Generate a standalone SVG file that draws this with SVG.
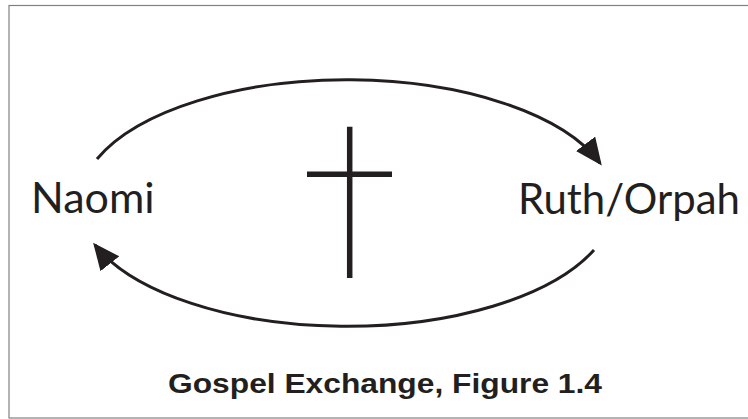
<svg xmlns="http://www.w3.org/2000/svg" width="748" height="419" viewBox="0 0 748 419">
  <style>
    .label { font-family: Lato, "Open Sans", "Liberation Sans", sans-serif; font-size: 43px; fill: #231f20; }
    .caption { font-family: "Liberation Sans", Arial, sans-serif; font-size: 28px; font-weight: bold; fill: #231f20; }
    .arc { fill: none; stroke: #231f20; stroke-width: 3; }
    .cross { stroke: #231f20; stroke-width: 5.5; }
  </style>
  <defs>
    <marker id="arrow" markerUnits="userSpaceOnUse" markerWidth="32" markerHeight="28" refX="24" refY="12" orient="auto" viewBox="0 0 32 28">
      <path d="M0,0 L27,12 L0,24 Z" fill="#231f20"/>
    </marker>
  </defs>
  <rect x="9" y="5.5" width="760" height="412.5" fill="#ffffff" stroke="#808080" stroke-width="1.2"/>
  <g id="connectors">
    <path class="arc" d="M97,159 A268,124 0 0 1 600,163" marker-end="url(#arrow)"/>
    <path class="arc" d="M594,250 A268,124 0 0 1 95,245" marker-end="url(#arrow)"/>
  </g>
  <g id="cross">
    <line class="cross" x1="349.7" y1="126.7" x2="349.7" y2="278"/>
    <line class="cross" x1="307" y1="174.3" x2="392" y2="174.3"/>
  </g>
  <g id="naomi">
    <text class="label" x="31" y="213">Naomi</text>
  </g>
  <g id="ruth-orpah">
    <text class="label" x="518" y="214" textLength="222" lengthAdjust="spacingAndGlyphs">Ruth/Orpah</text>
  </g>
  <g id="caption">
    <text class="caption" x="168" y="393" textLength="434" lengthAdjust="spacingAndGlyphs">Gospel Exchange, Figure 1.4</text>
  </g>
</svg>
